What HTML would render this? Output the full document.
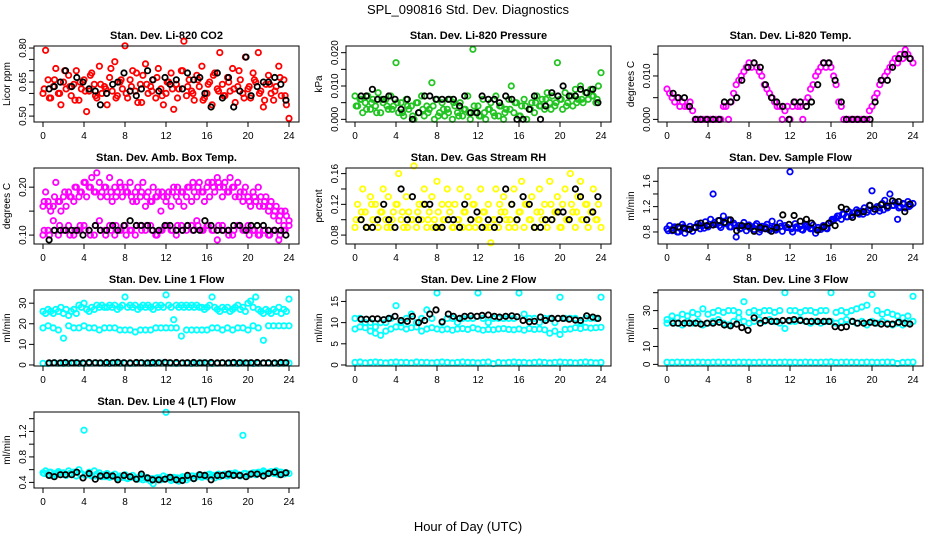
<!DOCTYPE html>
<html><head><meta charset="utf-8"><style>
body{margin:0;background:#fff}
svg{display:block;font-family:"Liberation Sans",Arial,sans-serif}
</style></head><body>
<svg id="chart" width="936" height="540" xmlns="http://www.w3.org/2000/svg">
<rect width="936" height="540" fill="#fff"/>
<text x="468" y="14" text-anchor="middle" font-size="13">SPL_090816  Std. Dev. Diagnostics</text>
<text x="468" y="531" text-anchor="middle" font-size="13">Hour of Day (UTC)</text>
</svg>
<script>
const hoursQ=[0,0.25,0.5,0.75,1,1.25,1.5,1.75,2,2.25,2.5,2.75,3,3.25,3.5,3.75,4,4.25,4.5,4.75,5,5.25,5.5,5.75,6,6.25,6.5,6.75,7,7.25,7.5,7.75,8,8.25,8.5,8.75,9,9.25,9.5,9.75,10,10.25,10.5,10.75,11,11.25,11.5,11.75,12,12.25,12.5,12.75,13,13.25,13.5,13.75,14,14.25,14.5,14.75,15,15.25,15.5,15.75,16,16.25,16.5,16.75,17,17.25,17.5,17.75,18,18.25,18.5,18.75,19,19.25,19.5,19.75,20,20.25,20.5,20.75,21,21.25,21.5,21.75,22,22.25,22.5,22.75,23,23.25,23.5,23.75,24];
const hoursH=[0,0.5,1,1.5,2,2.5,3,3.5,4,4.5,5,5.5,6,6.5,7,7.5,8,8.5,9,9.5,10,10.5,11,11.5,12,12.5,13,13.5,14,14.5,15,15.5,16,16.5,17,17.5,18,18.5,19,19.5,20,20.5,21,21.5,22,22.5,23,23.5,24];
const hoursH2=[0.12,0.62,1.12,1.62,2.12,2.62,3.12,3.62,4.12,4.62,5.12,5.62,6.12,6.62,7.12,7.62,8.12,8.62,9.12,9.62,10.12,10.62,11.12,11.62,12.12,12.62,13.12,13.62,14.12,14.62,15.12,15.62,16.12,16.62,17.12,17.62,18.12,18.62,19.12,19.62,20.12,20.62,21.12,21.62,22.12,22.62,23.12,23.62];
const hoursK=[0.6,1.1,1.7,2.2,2.8,3.3,3.9,4.5,5.1,5.6,6.2,6.8,7.3,7.9,8.5,9.1,9.6,10.2,10.7,11.3,11.9,12.4,13,13.6,14.1,14.7,15.3,15.8,16.4,17,17.5,18.1,18.6,19.2,19.8,20.3,20.9,21.5,22,22.6,23.2,23.7];
const xTicks=[0,4,8,12,16,20,24];

const co2=[0.60,0.79,0.66,0.58,0.63,0.71,0.60,0.55,0.65,0.62,0.68,0.59,0.64,0.70,0.57,0.62,0.66,0.52,0.61,0.69,0.64,0.58,0.72,0.60,0.63,0.55,0.67,0.61,0.74,0.59,0.65,0.62,0.81,0.58,0.66,0.70,0.61,0.56,0.64,0.68,0.73,0.60,0.63,0.66,0.58,0.71,0.62,0.55,0.60,0.65,0.69,0.53,0.64,0.62,0.70,0.83,0.59,0.66,0.61,0.57,0.68,0.63,0.72,0.58,0.60,0.65,0.55,0.69,0.62,0.78,0.64,0.59,0.67,0.61,0.71,0.56,0.63,0.66,0.60,0.76,0.62,0.58,0.69,0.65,0.78,0.61,0.54,0.64,0.68,0.60,0.57,0.63,0.72,0.59,0.66,0.55,0.49];
const co2b=[0.62,0.58,0.66,0.60,0.70,0.63,0.57,0.65,0.61,0.68,0.59,0.64,0.62,0.71,0.58,0.66,0.60,0.63,0.69,0.56,0.64,0.61,0.67,0.59,0.65,0.62,0.58,0.70,0.63,0.60,0.66,0.57,0.64,0.68,0.61,0.59,0.65,0.62,0.70,0.58,0.63,0.66,0.60,0.57,0.64,0.61,0.67,0.59];
const co2K=[0.62,0.63,0.65,0.70,0.63,0.67,0.65,0.62,0.61,0.55,0.60,0.64,0.65,0.69,0.61,0.59,0.62,0.70,0.66,0.61,0.67,0.64,0.66,0.62,0.69,0.66,0.67,0.60,0.54,0.69,0.58,0.67,0.54,0.61,0.76,0.59,0.63,0.65,0.65,0.67,0.64,0.57];
const pres=[0.007,0.004,0.006,0.002,0.005,0.007,0.003,0.006,0.004,0.008,0.002,0.005,0.006,0.003,0.007,0.004,0.017,0.002,0.005,0.001,0.006,0.003,0.004,0.000,0.005,0.002,0.007,0.001,0.004,0.003,0.011,0.000,0.006,0.002,0.005,0.001,0.003,0.006,0.000,0.004,0.002,0.005,0.001,0.003,0.007,0.000,0.021,0.002,0.004,0.001,0.006,0.000,0.003,0.005,0.002,0.007,0.001,0.004,0.000,0.003,0.006,0.010,0.002,0.005,0.001,0.004,0.006,0.000,0.003,0.005,0.002,0.007,0.004,0.006,0.003,0.008,0.005,0.007,0.004,0.017,0.006,0.003,0.008,0.005,0.007,0.004,0.009,0.006,0.010,0.005,0.008,0.006,0.009,0.007,0.005,0.010,0.014];
const presb=[0.004,0.006,0.003,0.005,0.002,0.006,0.004,0.003,0.005,0.002,0.004,0.001,0.005,0.003,0.002,0.004,0.001,0.003,0.002,0.005,0.001,0.003,0.002,0.004,0.001,0.002,0.003,0.001,0.004,0.002,0.003,0.005,0.001,0.004,0.003,0.005,0.004,0.006,0.003,0.005,0.006,0.004,0.007,0.005,0.006,0.008,0.007,0.006];
const presK=[0.007,0.007,0.009,0.006,0.006,0.007,0.006,0.003,0.006,0.000,0.002,0.007,0.007,0.006,0.006,0.006,0.006,0.004,0.007,0.002,0.002,0.007,0.006,0.006,0.005,0.007,0.006,0.000,0.000,0.003,0.007,0.000,0.004,0.008,0.007,0.010,0.007,0.007,0.009,0.008,0.009,0.005];
const temp=[0.007,0.006,0.005,0.004,0.005,0.003,0.004,0.003,0.003,0.004,0.002,0.000,0.000,0.000,0.000,0.000,0.000,0.000,0.000,0.000,0.000,0.000,0.003,0.003,0.000,0.004,0.006,0.008,0.009,0.010,0.011,0.012,0.013,0.012,0.013,0.012,0.011,0.010,0.008,0.007,0.006,0.005,0.004,0.003,0.003,0.000,0.002,0.003,0.000,0.003,0.004,0.003,0.003,0.000,0.004,0.005,0.007,0.008,0.010,0.011,0.012,0.013,0.012,0.013,0.012,0.010,0.008,0.004,0.003,0.000,0.000,0.000,0.000,0.000,0.000,0.000,0.000,0.000,0.000,0.002,0.003,0.005,0.006,0.008,0.009,0.010,0.011,0.012,0.013,0.014,0.013,0.015,0.014,0.016,0.015,0.014,0.013];
const tempK=[0.006,0.005,0.005,0.003,0.000,0.000,0.000,0.000,0.000,0.004,0.004,0.005,0.009,0.012,0.013,0.012,0.008,0.005,0.004,0.003,0.000,0.004,0.004,0.003,0.004,0.008,0.013,0.013,0.009,0.004,0.000,0.000,0.000,0.000,0.000,0.004,0.009,0.009,0.012,0.014,0.015,0.014];
const ambUp=[0.16,0.19,0.17,0.15,0.16,0.21,0.17,0.15,0.18,0.16,0.19,0.18,0.17,0.20,0.18,0.19,0.21,0.18,0.20,0.22,0.19,0.23,0.21,0.19,0.20,0.18,0.22,0.17,0.20,0.19,0.21,0.18,0.20,0.19,0.21,0.17,0.19,0.20,0.18,0.21,0.16,0.19,0.17,0.20,0.18,0.19,0.15,0.18,0.17,0.19,0.16,0.20,0.18,0.17,0.19,0.16,0.18,0.20,0.17,0.19,0.18,0.21,0.19,0.17,0.20,0.18,0.21,0.19,0.22,0.20,0.18,0.21,0.19,0.22,0.20,0.18,0.21,0.19,0.17,0.20,0.18,0.16,0.19,0.17,0.20,0.18,0.16,0.18,0.15,0.17,0.14,0.16,0.13,0.15,0.12,0.14,0.13];
const ambUpb=[0.17,0.16,0.18,0.17,0.19,0.18,0.20,0.19,0.21,0.20,0.19,0.18,0.20,0.19,0.18,0.20,0.19,0.18,0.17,0.19,0.18,0.17,0.18,0.19,0.18,0.19,0.20,0.19,0.20,0.21,0.20,0.19,0.21,0.20,0.21,0.20,0.19,0.20,0.18,0.19,0.17,0.18,0.16,0.17,0.16,0.15,0.14,0.15];
const ambLo=[0.10,0.11,0.13,0.10,0.11,0.12,0.10,0.11,0.12,0.11,0.10,0.13,0.11,0.12,0.10,0.11,0.12,0.11,0.10,0.12,0.11,0.12,0.10,0.11,0.12,0.11,0.10,0.12,0.11,0.12,0.13,0.11,0.12,0.11,0.09,0.12,0.11,0.10,0.12,0.11,0.12,0.11,0.10,0.11,0.10,0.11,0.09,0.11,0.12];
const ambLob=[0.11,0.10,0.11,0.12,0.11,0.10,0.11,0.12,0.11,0.10,0.12,0.11,0.10,0.11,0.12,0.11,0.10,0.11,0.12,0.11,0.12,0.11,0.10,0.11,0.12,0.11,0.12,0.11,0.12,0.11,0.12,0.11,0.12,0.11,0.12,0.11,0.10,0.11,0.12,0.11,0.10,0.11,0.10,0.11,0.10,0.11,0.10,0.11];
const ambK=[0.09,0.11,0.11,0.11,0.11,0.11,0.10,0.11,0.12,0.11,0.11,0.12,0.11,0.12,0.13,0.12,0.12,0.12,0.11,0.11,0.12,0.12,0.11,0.11,0.12,0.11,0.11,0.13,0.12,0.11,0.11,0.11,0.12,0.12,0.11,0.12,0.12,0.12,0.11,0.11,0.11,0.10];
const rh=[0.09,0.12,0.10,0.14,0.11,0.09,0.13,0.10,0.12,0.09,0.11,0.14,0.10,0.13,0.09,0.11,0.12,0.16,0.10,0.09,0.13,0.11,0.10,0.17,0.09,0.12,0.10,0.14,0.09,0.11,0.13,0.10,0.15,0.09,0.12,0.10,0.14,0.11,0.09,0.12,0.10,0.14,0.09,0.11,0.13,0.10,0.12,0.09,0.10,0.14,0.11,0.09,0.12,0.07,0.10,0.14,0.09,0.11,0.13,0.10,0.09,0.12,0.14,0.10,0.11,0.15,0.09,0.12,0.10,0.13,0.09,0.11,0.14,0.10,0.12,0.09,0.15,0.10,0.11,0.13,0.09,0.12,0.14,0.10,0.16,0.11,0.09,0.13,0.15,0.10,0.12,0.09,0.11,0.14,0.10,0.12,0.09];
const rhb=[0.10,0.11,0.09,0.12,0.10,0.11,0.09,0.10,0.12,0.11,0.09,0.10,0.11,0.12,0.10,0.09,0.11,0.10,0.12,0.09,0.10,0.11,0.09,0.12,0.10,0.11,0.09,0.10,0.12,0.11,0.10,0.09,0.11,0.12,0.10,0.09,0.11,0.10,0.12,0.11,0.09,0.10,0.12,0.11,0.10,0.12,0.11,0.10];
const rhK=[0.10,0.09,0.09,0.10,0.12,0.10,0.09,0.14,0.10,0.13,0.10,0.12,0.12,0.09,0.09,0.10,0.10,0.09,0.12,0.10,0.11,0.09,0.10,0.09,0.10,0.14,0.12,0.10,0.13,0.12,0.09,0.09,0.10,0.10,0.11,0.11,0.10,0.14,0.13,0.10,0.11,0.13];
const flow=[0.85,0.90,0.82,0.88,0.80,0.86,0.92,0.78,0.84,0.89,0.81,0.87,0.93,0.85,0.90,0.96,0.88,1.00,1.40,0.92,0.98,0.87,1.05,0.93,0.99,0.88,0.94,0.72,0.90,0.86,0.95,0.82,0.91,0.88,0.84,0.93,0.80,0.89,0.86,0.92,0.83,0.97,0.88,0.85,0.94,0.81,0.90,0.87,1.75,0.80,0.93,0.86,0.89,0.83,0.92,0.88,0.85,0.91,0.78,0.87,0.84,0.90,0.86,0.93,0.96,0.99,1.02,1.05,1.00,1.08,1.04,1.12,1.06,1.10,1.15,1.08,1.13,1.18,1.11,1.22,1.45,1.16,1.20,1.13,1.25,1.30,1.18,1.40,1.22,1.27,1.00,1.20,1.25,1.18,1.28,1.22,1.25];
const flowb=[0.82,0.86,0.80,0.88,0.84,0.87,0.90,0.86,0.92,0.95,0.90,0.93,0.88,0.91,0.85,0.89,0.86,0.90,0.84,0.88,0.86,0.83,0.89,0.87,0.85,0.88,0.84,0.90,0.86,0.83,0.87,0.85,1.00,1.05,1.08,1.04,1.10,1.12,1.08,1.15,1.12,1.18,1.15,1.20,1.22,1.18,1.24,1.20];
const flowK=[0.83,0.88,0.86,0.84,0.87,0.94,0.90,0.91,0.98,0.95,0.99,0.82,0.90,0.89,0.81,0.87,0.85,0.81,0.87,1.07,0.92,1.06,0.97,1.00,0.94,0.83,0.88,0.94,0.90,1.19,1.16,1.03,1.10,1.12,1.22,1.16,1.23,1.21,1.29,1.28,1.12,1.24];
const l1Up=[26,25,27,26,25,27,26,28,25,27,24,26,27,25,29,28,30,27,26,28,27,29,28,29,28,28,29,28,29,27,28,29,33,28,29,28,29,27,28,29,28,29,28,27,29,28,29,28,34,29,28,22,29,28,29,28,29,28,29,28,29,28,28,27,28,29,33,28,27,26,28,27,28,26,27,28,29,27,28,26,30,31,28,33,27,26,25,27,26,25,27,26,28,25,27,26,32];
const l1Mid=[18,19,18,17,13,19,18,18,19,18,18,17,18,18,18,17,17,17,16,17,17,17,18,18,18,18,18,14,17,17,17,17,17,18,18,17,18,17,18,18,17,19,18,12,19,19,19,19,19];
const l1Low=[0.8,0.7,0.9,0.8,0.7,0.8,0.9,0.8,0.7,0.8,0.9,0.8,0.8,0.7,0.9,0.8,0.8,0.7,0.8,0.9,0.8,0.7,0.8,0.9,0.8,0.8,0.7,0.9,0.8,0.7,0.8,0.9,0.8,0.7,0.8,0.9,0.8,0.8,0.7,0.9,0.8,0.7,0.8,0.9,0.8,0.8,0.7,0.8,0.9];
const l1K=[1,1.1,1,1.2,1,1.1,1,1.2,1.1,1,1.2,1.1,1.3,1.1,1,1.2,1.1,1,1.2,1.1,1.3,1.1,1.2,1,1.1,1.2,1,1.1,1.2,1,1.1,1,1.2,1.1,1,1.1,1.2,1,1.1,1,1.2,1.1];
const l2Up=[11,11,10,10,9,10,10,11,14,10,11,12,10,11,13,11,17,10,11,11,10,11,11,11,17,11,10,11,11,11,11,11,17,12,11,11,10,11,11,10,16,11,11,11,10,11,11,11,16];
const l2Mid=[8.5,9,8.8,8,7.5,7,8,8.5,9,9,8.5,8.8,9,8,8.5,8.8,8.5,8.3,8.5,8.2,8.5,8.6,8.4,8.8,8.5,8.2,8.4,8.3,8.5,8.6,8.4,8.3,8.5,8.2,8.6,8.4,8.5,8.3,7.5,8,7.2,8.4,8.5,8.8,8.6,8.9,8.7,8.8,8.9];
const l2Low=[0.6,0.7,0.5,0.6,0.7,0.6,0.5,0.6,0.7,0.6,0.6,0.5,0.7,0.6,0.6,0.5,0.6,0.7,0.6,0.5,0.6,0.7,0.6,0.6,0.5,0.6,0.7,0.3,0.6,0.5,0.6,0.7,0.6,0.6,0.5,0.6,0.7,0.6,0.5,0.6,0.7,0.6,0.6,0.5,0.6,0.7,0.6,0.5,0.6];
const l2K=[10.8,10.8,10.9,10.9,10.7,11,11.5,10.5,10.3,11.5,10,10.5,12,13,10.2,12,11.5,11,11.5,11.6,11.5,11.7,11.8,11.5,11.3,11.5,11.6,11.4,10.5,10.2,10.3,11.3,10.5,11,11,11,10.8,10.6,10.5,11.6,11.3,11];
const l3Up=[25,27,26,28,27,29,28,31,28,29,30,29,30,30,29,35,29,30,29,30,30,29,30,40,30,30,29,30,30,29,30,30,40,29,30,29,30,31,32,33,39,30,28,29,28,27,26,27,38];
const l3Mid=[23,24,23,22,24,23,24,22,23,24,25,23,22,24,26,24,23,24,25,24,25,24,23,20,24,24,25,24,23,24,23,24,24,23,24,25,24,23,24,22,24,23,24,23,22,23,22,23,24];
const l3Low=[1.2,1.1,1.3,1.2,1.1,1.2,1.3,1.2,1.1,1.2,1.3,1.2,1.2,1.1,1.3,1.2,1.2,1.1,1.2,1.3,1.2,1.1,1.2,1.3,1.2,1.2,1.1,1.3,1.2,1.1,1.2,1.3,1.4,1.1,1.2,1.3,1.2,1.2,1.1,1.3,1.2,1.1,1.2,1.3,1.2,0.5,1.1,1.2,1.3];
const l3K=[23,23,23,23,23,22.5,23,23,23.5,22,21.5,22.5,20.5,19,26,23,24.5,24,24,24.5,24.5,25,24.5,24,24,24,24,24,21,20.5,21,24,23,23,23.5,23,22.5,22.5,22.5,23.5,23,22.5];
const l4=[0.55,0.58,0.52,0.56,0.50,0.54,0.57,0.52,0.55,0.51,0.58,0.53,0.56,0.50,0.60,0.54,1.22,0.52,0.56,0.50,0.58,0.53,0.55,0.49,0.52,0.54,0.48,0.51,0.53,0.47,0.50,0.48,0.52,0.46,0.49,0.51,0.47,0.45,0.50,0.44,0.48,0.46,0.42,0.38,0.45,0.47,0.44,0.50,1.50,0.46,0.43,0.48,0.45,0.42,0.46,0.48,0.44,0.47,0.50,0.46,0.49,0.52,0.48,0.51,0.49,0.53,0.50,0.47,0.52,0.49,0.51,0.53,0.50,0.54,0.51,0.55,0.52,0.50,1.14,0.54,0.51,0.53,0.55,0.52,0.56,0.54,0.58,0.53,0.55,0.57,0.54,0.58,0.52,0.56,0.53,0.55,0.54];
const l4b=[0.54,0.56,0.53,0.55,0.52,0.54,0.56,0.53,0.51,0.52,0.50,0.51,0.49,0.50,0.48,0.49,0.47,0.48,0.46,0.47,0.45,0.46,0.47,0.45,0.48,0.46,0.47,0.49,0.48,0.50,0.51,0.50,0.52,0.51,0.53,0.52,0.51,0.53,0.52,0.54,0.53,0.55,0.54,0.56,0.55,0.54,0.56,0.55];
const l4K=[0.51,0.49,0.52,0.52,0.52,0.56,0.47,0.54,0.45,0.50,0.51,0.50,0.44,0.51,0.49,0.45,0.53,0.47,0.44,0.44,0.45,0.48,0.44,0.43,0.51,0.46,0.52,0.51,0.44,0.51,0.51,0.53,0.51,0.51,0.49,0.53,0.53,0.50,0.54,0.56,0.52,0.55];

const panels=[
 {id:'co2',col:0,row:0,title:'Stan. Dev. Li-820 CO2',yl:'Licor ppm',ylim:[0.474,0.809],ticks:[0.5,0.55,0.6,0.65,0.7,0.75,0.8],labels:{'0.5':'0.50','0.65':'0.65','0.8':'0.80'},
  series:[[hoursQ,co2,'#ff0000'],[hoursH2,co2b,'#ff0000'],[hoursK,co2K,'#000']]},
 {id:'pressure',col:1,row:0,title:'Stan. Dev. Li-820 Pressure',yl:'kPa',ylim:[-0.0008,0.022],ticks:[0,0.005,0.01,0.015,0.02],labels:{'0':'0.000','0.01':'0.010','0.02':'0.020'},
  series:[[hoursQ,pres,'#22c422'],[hoursH2,presb,'#22c422'],[hoursK,presK,'#000']]},
 {id:'temp',col:2,row:0,title:'Stan. Dev. Li-820 Temp.',yl:'degrees C',ylim:[-0.0006,0.0169],ticks:[0,0.005,0.01,0.015],labels:{'0':'0.000','0.01':'0.010'},
  series:[[hoursQ,temp,'#ff00ff'],[hoursK,tempK,'#000']]},
 {id:'ambtemp',col:0,row:1,title:'Stan. Dev. Amb. Box Temp.',yl:'degrees C',ylim:[0.0814,0.240],ticks:[0.1,0.15,0.2],labels:{'0.1':'0.10','0.2':'0.20'},
  series:[[hoursQ,ambUp,'#ff00ff'],[hoursH2,ambUpb,'#ff00ff'],[hoursH,ambLo,'#ff00ff'],[hoursH2,ambLob,'#ff00ff'],[hoursK,ambK,'#000']]},
 {id:'rh',col:1,row:1,title:'Stan. Dev. Gas Stream RH',yl:'percent',ylim:[0.0684,0.1673],ticks:[0.08,0.1,0.12,0.14,0.16],labels:{'0.08':'0.08','0.12':'0.12','0.16':'0.16'},
  series:[[hoursQ,rh,'#ffff00'],[hoursH2,rhb,'#ffff00'],[hoursK,rhK,'#000']]},
 {id:'sampleflow',col:2,row:1,title:'Stan. Dev. Sample Flow',yl:'ml/min',ylim:[0.61,1.81],ticks:[0.8,1.0,1.2,1.4,1.6],labels:{'0.8':'0.8','1.2':'1.2','1.6':'1.6'},
  series:[[hoursQ,flow,'#0000ff'],[hoursH2,flowb,'#0000ff'],[hoursK,flowK,'#000']]},
 {id:'line1',col:0,row:2,title:'Stan. Dev. Line 1 Flow',yl:'ml/min',ylim:[-0.5,36.4],ticks:[0,10,20,30],labels:{'0':'0','10':'10','20':'20','30':'30'},
  series:[[hoursQ,l1Up,'#00ffff'],[hoursH,l1Mid,'#00ffff'],[hoursH,l1Low,'#00ffff'],[hoursK,l1K,'#000']]},
 {id:'line2',col:1,row:2,title:'Stan. Dev. Line 2 Flow',yl:'ml/min',ylim:[-0.24,17.7],ticks:[0,5,10,15],labels:{'0':'0','5':'5','10':'10','15':'15'},
  series:[[hoursH,l2Up,'#00ffff'],[hoursH,l2Mid,'#00ffff'],[hoursH,l2Low,'#00ffff'],[hoursK,l2K,'#000']]},
 {id:'line3',col:2,row:2,title:'Stan. Dev. Line 3 Flow',yl:'ml/min',ylim:[-0.9,41.5],ticks:[0,10,20,30,40],labels:{'0':'0','10':'10','30':'30'},
  series:[[hoursH,l3Up,'#00ffff'],[hoursH,l3Mid,'#00ffff'],[hoursH,l3Low,'#00ffff'],[hoursK,l3K,'#000']]},
 {id:'line4',col:0,row:3,title:'Stan. Dev. Line 4 (LT) Flow',yl:'ml/min',ylim:[0.312,1.505],ticks:[0.4,0.6,0.8,1.0,1.2,1.4],labels:{'0.4':'0.4','0.8':'0.8','1.2':'1.2'},
  series:[[hoursQ,l4,'#00ffff'],[hoursH2,l4b,'#00ffff'],[hoursK,l4K,'#000']]}
];

const NS='http://www.w3.org/2000/svg';
const svg=document.getElementById('chart');
function mk(tag,attrs,parent){const e=document.createElementNS(NS,tag);for(const k in attrs)e.setAttribute(k,attrs[k]);parent.appendChild(e);return e;}

panels.forEach(p=>{
  const L=34+p.col*312, R=L+265, T=46+p.row*122, B=T+76;
  const x=h=>L+9+(h/24)*246;
  const y=v=>B-(v-p.ylim[0])/(p.ylim[1]-p.ylim[0])*(B-T);
  const g=mk('g',{},svg);
  
  
  const t=mk('text',{x:(L+R)/2,y:T-7,'text-anchor':'middle','font-size':'11','font-weight':'bold'},g);
  t.textContent=p.title;
  
  
  const yl=mk('text',{x:0,y:0,'text-anchor':'middle','font-size':'10',transform:`translate(${L-24},${(T+B)/2}) rotate(-90)`},g);
  yl.textContent=p.yl;
  
  
  const pts=mk('g',{fill:'none','stroke-width':'1.8'},g);
  
  
  p.series.forEach(s=>{
    const hs=s[0],vs=s[1],n=Math.min(hs.length,vs.length);
    for(let i=0;i<n;i++){
      const c=mk('circle',{cx:x(hs[i]).toFixed(1),cy:y(vs[i]).toFixed(1),r:2.7,stroke:s[2]},pts);
      
      
    }
  });
  const box=mk('rect',{x:L,y:T,width:R-L,height:B-T,fill:'none',stroke:'#000','stroke-width':'1'},g);
  
  
  mk('line',{x1:x(0),x2:x(24),y1:B,y2:B,stroke:'#000'},g);
  xTicks.forEach(h=>{
    mk('line',{x1:x(h),x2:x(h),y1:B,y2:B+5,stroke:'#000'},g);
    const tl=mk('text',{x:x(h),y:B+17,'text-anchor':'middle','font-size':'10'},g);
    tl.textContent=h;
    
    
  });
  mk('line',{x1:L,x2:L,y1:y(p.ticks[0]),y2:y(p.ticks[p.ticks.length-1]),stroke:'#000'},g);
  p.ticks.forEach(v=>{
    mk('line',{x1:L-5,x2:L,y1:y(v),y2:y(v),stroke:'#000'},g);
    const lab=p.labels[String(v)];
    if(lab!==undefined){
      const tl=mk('text',{x:0,y:0,'text-anchor':'middle','font-size':'10',transform:`translate(${L-8},${y(v)}) rotate(-90)`},g);
      tl.textContent=lab;
      
      
    }
  });
});
</script>
</body></html>
